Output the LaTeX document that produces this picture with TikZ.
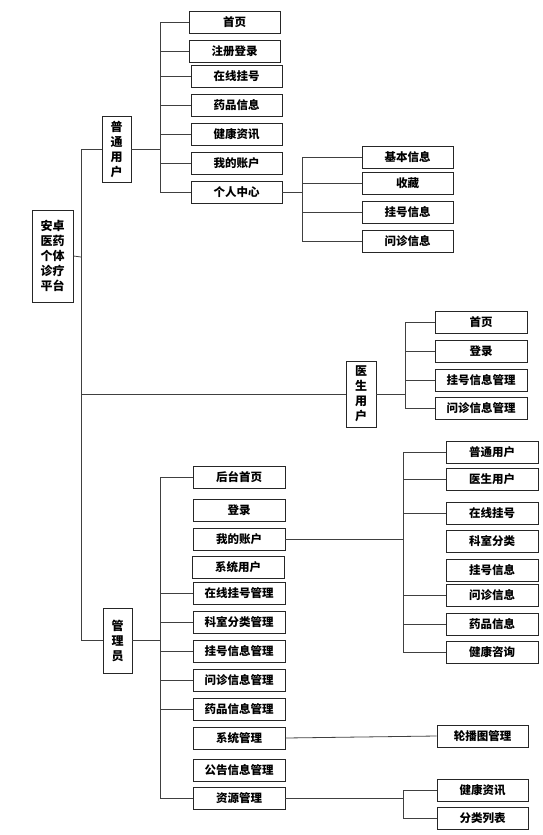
\documentclass[tikz,border=0pt]{standalone}
\usepackage{fontspec}
\setmainfont{Noto Sans CJK SC}
\begin{document}
\begin{tikzpicture}[x=1pt,y=-1pt,
  bx/.style={draw=black!85,line width=0.9pt,minimum height=22pt,minimum width=91pt,inner sep=0pt,
    font=\fontsize{11.5}{14}\selectfont\bfseries},
  vbx/.style={draw=black!85,line width=0.9pt,inner sep=0pt,align=center,
    font=\fontsize{12}{15}\selectfont\bfseries},
  ln/.style={draw=black!75,line width=0.8pt}]
\useasboundingbox (0,0) rectangle (542,835);
% root and level 1
\node[vbx,minimum width=41pt,minimum height=92pt] (root) at (52.5,256) {安卓\\医药\\个体\\诊疗\\平台};
\node[vbx,minimum width=29pt,minimum height=66pt] (u) at (116.5,149) {普\\通\\用\\户};
\node[vbx,minimum width=30pt,minimum height=66pt] (d) at (361,394) {医\\生\\用\\户};
\node[vbx,minimum width=29pt,minimum height=65pt] (a) at (117.5,640.5) {管\\理\\员};
\coordinate (t) at (81,257);
\draw[ln] (root.east) -- (t);
\draw[ln] (t) |- (u.west);
\draw[ln] (t) |- (d.west);
\draw[ln] (t) |- (a.west);
% user children
\node[bx] (u1) at (234.5,22) {首页};
\node[bx] (u2) at (234.5,51) {注册登录};
\node[bx] (u3) at (236.5,76) {在线挂号};
\node[bx] (u4) at (236.5,105) {药品信息};
\node[bx] (u5) at (236.5,134) {健康资讯};
\node[bx] (u6) at (236.5,163) {我的账户};
\node[bx] (u7) at (236.5,192) {个人中心};
\coordinate (ub) at (160,149);
\draw[ln] (u.east) -- (ub);
\foreach \c in {u1,u2,u3,u4,u5,u6,u7} \draw[ln] (ub) |- (\c.west);
% personal center children
\node[bx] (p1) at (407.5,157) {基本信息};
\node[bx] (p2) at (407.5,183) {收藏};
\node[bx] (p3) at (407.5,212) {挂号信息};
\node[bx] (p4) at (407.5,241) {问诊信息};
\coordinate (pb) at (302,192);
\draw[ln] (u7.east) -- (pb);
\foreach \c in {p1,p2,p3,p4} \draw[ln] (pb) |- (\c.west);
% doctor children
\node[bx,minimum width=92pt] (d1) at (481,322) {首页};
\node[bx,minimum width=92pt] (d2) at (481,351) {登录};
\node[bx,minimum width=92pt] (d3) at (481,380) {挂号信息管理};
\node[bx,minimum width=92pt] (d4) at (481,408) {问诊信息管理};
\coordinate (db) at (405,394);
\draw[ln] (d.east) -- (db);
\foreach \c in {d1,d2,d3,d4} \draw[ln] (db) |- (\c.west);
% admin children
\node[bx,minimum width=92pt] (a1) at (239,477) {后台首页};
\node[bx,minimum width=92pt] (a2) at (239,510) {登录};
\node[bx,minimum width=92pt] (a3) at (239,539) {我的账户};
\node[bx,minimum width=92pt] (a4) at (238,567) {系统用户};
\node[bx,minimum width=92pt] (a5) at (239,593) {在线挂号管理};
\node[bx,minimum width=92pt] (a6) at (239,622) {科室分类管理};
\node[bx,minimum width=92pt] (a7) at (239,651) {挂号信息管理};
\node[bx,minimum width=92pt] (a8) at (239,680) {问诊信息管理};
\node[bx,minimum width=92pt] (a9) at (239,709) {药品信息管理};
\node[bx,minimum width=92pt] (a10) at (239,738) {系统管理};
\node[bx,minimum width=92pt] (a11) at (239,770) {公告信息管理};
\node[bx,minimum width=92pt] (a12) at (239,798) {资源管理};
\coordinate (ab) at (160,640.5);
\draw[ln] (a.east) -- (ab);
\foreach \c in {a1,a5,a6,a7,a8,a9,a12} \draw[ln] (ab) |- (\c.west);
% my account children
\node[bx,minimum width=92pt] (m1) at (492,452) {普通用户};
\node[bx,minimum width=92pt] (m2) at (492,479) {医生用户};
\node[bx,minimum width=92pt] (m3) at (492,513) {在线挂号};
\node[bx,minimum width=92pt] (m4) at (492,541) {科室分类};
\node[bx,minimum width=92pt] (m5) at (492,570) {挂号信息};
\node[bx,minimum width=92pt] (m6) at (492,595) {问诊信息};
\node[bx,minimum width=92pt] (m7) at (492,624) {药品信息};
\node[bx,minimum width=92pt] (m8) at (492,652) {健康咨询};
\coordinate (mb) at (403,539);
\draw[ln] (a3.east) -- (mb);
\foreach \c in {m1,m2,m3,m6,m7,m8} \draw[ln] (mb) |- (\c.west);
% system management child
\node[bx] (s1) at (482.5,736) {轮播图管理};
\draw[ln] (a10.east) -- (s1.west);
% resource management children
\node[bx] (r1) at (482.5,790) {健康资讯};
\node[bx] (r2) at (482.5,818) {分类列表};
\coordinate (rb) at (403,798);
\draw[ln] (a12.east) -- (rb);
\foreach \c in {r1,r2} \draw[ln] (rb) |- (\c.west);
\end{tikzpicture}
\end{document}
